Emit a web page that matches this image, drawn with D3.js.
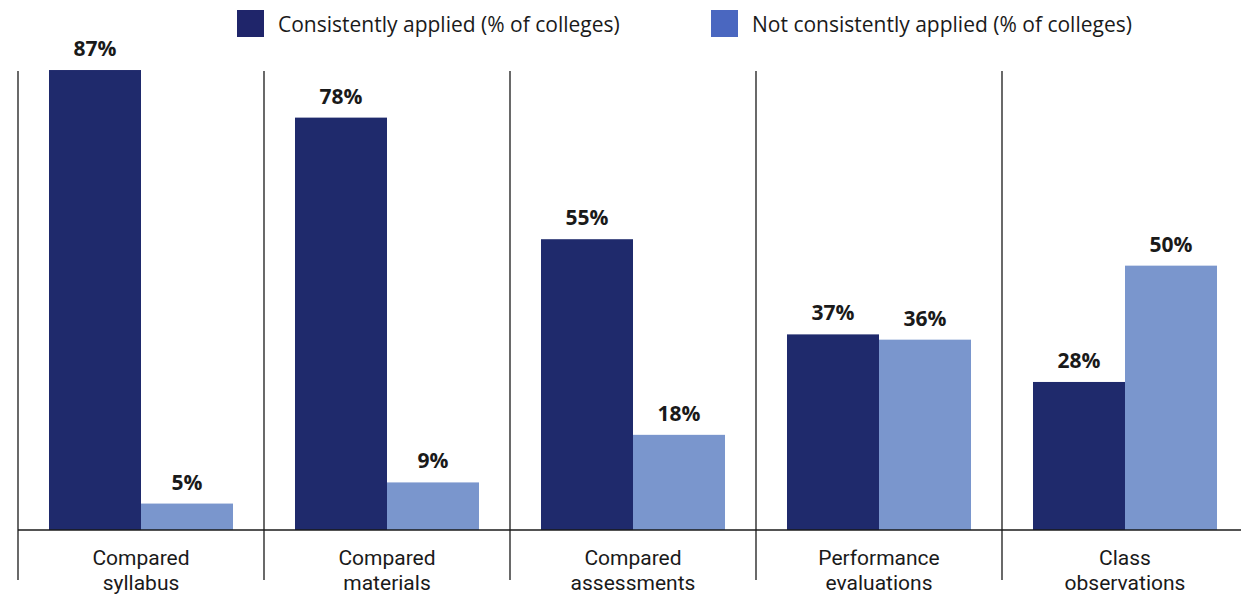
<!DOCTYPE html>
<html>
<head>
<meta charset="utf-8">
<script src="https://cdn.jsdelivr.net/npm/d3@7"></script>
<style>
  html, body { margin: 0; padding: 0; background: #ffffff; }
  svg { display: block; font-family: "Open Sans", "Noto Sans", sans-serif; }
</style>
</head>
<body>
<svg id="chart" width="1241" height="597"></svg>
<script>
// Categories (two-line labels) and the two series, in percent of colleges
const categories = [
  ["Compared", "syllabus"],
  ["Compared", "materials"],
  ["Compared", "assessments"],
  ["Performance", "evaluations"],
  ["Class", "observations"]
];
const seriesNames = [
  "Consistently applied (% of colleges)",
  "Not consistently applied (% of colleges)"
];
const consistentlyApplied = [87, 78, 55, 37, 28];
const notConsistentlyApplied = [5, 9, 18, 36, 50];

const barColors = ["#1f2a6c", "#7a96cd"];
const legendColors = ["#1f256a", "#4a67c0"];

const svg = d3.select("#chart");
const W = 1241, H = 597;
const baseY = 530;

const catKeys = categories.map(c => c.join(" "));
const rows = catKeys.map((k, i) => ({
  key: k,
  values: [consistentlyApplied[i], notConsistentlyApplied[i]]
}));

const x0 = d3.scaleBand()
  .domain(catKeys)
  .range([18, 18 + 246 * catKeys.length])
  .paddingInner(0.252)
  .paddingOuter(0.126);

const x1 = d3.scaleBand()
  .domain([0, 1])
  .range([0, x0.bandwidth()])
  .padding(0);

const y = d3.scaleLinear()
  .domain([0, 100])
  .range([baseY, baseY - 528.7]);

// Vertical separators between categories
const step = x0.step();
svg.append("g").selectAll("line")
  .data(catKeys)
  .join("line")
  .attr("x1", d => x0(d) - step * 0.126)
  .attr("x2", d => x0(d) - step * 0.126)
  .attr("y1", 71)
  .attr("y2", 580)
  .attr("stroke", "#1a1a1a")
  .attr("stroke-width", 1.3);

// Bars
const groups = svg.append("g").selectAll("g")
  .data(rows)
  .join("g")
  .attr("transform", d => `translate(${x0(d.key)},0)`);

groups.selectAll("rect")
  .data(d => d.values.map((v, j) => ({ v, j })))
  .join("rect")
  .attr("x", d => x1(d.j))
  .attr("width", x1.bandwidth())
  .attr("y", d => y(d.v))
  .attr("height", d => y(0) - y(d.v))
  .attr("fill", d => barColors[d.j]);

// Value labels above bars
groups.selectAll("text")
  .data(d => d.values.map((v, j) => ({ v, j })))
  .join("text")
  .attr("x", d => x1(d.j) + x1.bandwidth() / 2)
  .attr("y", d => y(d.v) - 14)
  .attr("text-anchor", "middle")
  .attr("font-size", 21)
  .attr("font-weight", 700)
  .attr("fill", "#1a1a1a")
  .text(d => d.v + "%");

// Baseline axis with two-line category labels
const axis = svg.append("g")
  .attr("transform", `translate(0,${baseY})`)
  .call(d3.axisBottom(x0).tickSize(0).tickSizeOuter(0));

axis.select(".domain")
  .attr("stroke", "#1a1a1a")
  .attr("stroke-width", 1.5)
  .attr("d", `M18,0H${W}`);

axis.selectAll(".tick text").each(function(d, i) {
  const t = d3.select(this);
  t.text(null)
    .attr("y", 0)
    .attr("dy", null)
    .attr("font-family", "Roboto, 'Liberation Sans', sans-serif")
    .attr("font-size", 21)
    .attr("fill", "#1a1a1a");
  categories[i].forEach((line, k) => {
    t.append("tspan")
      .attr("x", 0)
      .attr("y", 35 + k * 25)
      .text(line);
  });
});

// Legend
const legendItems = [
  { name: seriesNames[0], color: legendColors[0], x: 237 },
  { name: seriesNames[1], color: legendColors[1], x: 711 }
];
const legend = svg.append("g").selectAll("g")
  .data(legendItems)
  .join("g")
  .attr("transform", d => `translate(${d.x},10)`);

legend.append("rect")
  .attr("width", 27)
  .attr("height", 27)
  .attr("fill", d => d.color);

legend.append("text")
  .attr("x", 41)
  .attr("y", 22)
  .attr("font-size", 21)
  .attr("fill", "#1a1a1a")
  .text(d => d.name);
</script>
</body>
</html>
